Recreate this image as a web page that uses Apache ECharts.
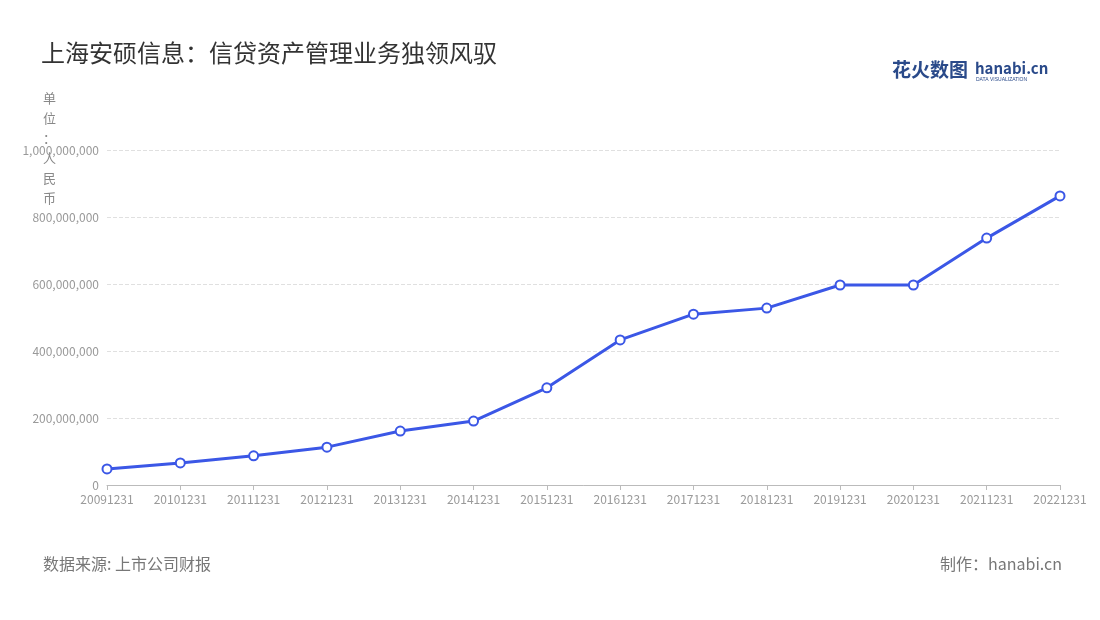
<!DOCTYPE html>
<html>
<head>
<meta charset="utf-8">
<script src="https://cdn.jsdelivr.net/npm/echarts@6/dist/echarts.min.js"></script>
<style>html,body{margin:0;padding:0;background:#fff}#main{width:1100px;height:620px}</style>
</head>
<body>
<div id="main"></div>
<script>
// 数据
const categories = ['20091231','20101231','20111231','20121231','20131231','20141231','20151231','20161231','20171231','20181231','20191231','20201231','20211231','20221231']
const values = [48000000,66000000,87000000,113000000,161000000,191000000,290000000,433000000,510000000,528000000,597000000,597000000,737000000,863000000]

const myChart = echarts.init(document.getElementById('main'))
const font = '"Noto Sans CJK SC", "Noto Sans", sans-serif'
myChart.setOption({
  textStyle: { fontFamily: font },
  title: {
    text: '上海安硕信息：信贷资产管理业务独领风驭',
    left: 36, top: 36,
    textStyle: { fontSize: 24, fontWeight: 'normal', color: '#333', fontFamily: font }
  },
  graphic: [
    { type: 'text', left: 892, top: 60, style: { text: '花火数图', fontSize: 19, fontWeight: 'bold', fill: '#2a4a8a', fontFamily: font } },
    { type: 'text', left: 975, top: 61, style: { text: 'hanabi.cn', fontSize: 15, fontWeight: 'bold', fill: '#2a4a8a', fontFamily: font } },
    { type: 'text', left: 976, top: 77, style: { text: 'DATA VISUALIZATION', fontSize: 5, fill: '#2a4a8a' } },
    { type: 'text', left: 43, top: 556, style: { text: '数据来源: 上市公司财报', fontSize: 16, fill: '#777', fontFamily: font } },
    { type: 'text', right: 38, top: 556, style: { text: '制作：hanabi.cn', fontSize: 16, fill: '#777', fontFamily: font } },
    { type: 'text', left: 43, top: 88, style: { text: '单\n位\n：\n人\n民\n币', fontSize: 13, lineHeight: 20, fill: '#888', fontFamily: font } }
  ],
  grid: { left: 107, right: 40, top: 150, bottom: 135 },
  xAxis: {
    type: 'category',
    data: categories,
    boundaryGap: false,
    axisLine: { lineStyle: { color: '#bbb' } },
    axisTick: { show: true, lineStyle: { color: '#bbb' } },
    axisLabel: { color: '#999', fontSize: 12, interval: 0 }
  },
  yAxis: {
    type: 'value',
    min: 0, max: 1000000000, interval: 200000000,
    axisLine: { show: false },
    axisTick: { show: false },
    axisLabel: { color: '#999', fontSize: 12, formatter: v => v.toLocaleString('en-US') },
    splitLine: { lineStyle: { type: 'dashed', color: '#e0e0e0' } }
  },
  series: [{
    type: 'line',
    data: values,
    symbol: 'circle',
    symbolSize: 9,
    lineStyle: { color: '#3b57e6', width: 3 },
    itemStyle: { color: '#fff', borderColor: '#3b57e6', borderWidth: 2 }
  }]
})
</script>
</body>
</html>
